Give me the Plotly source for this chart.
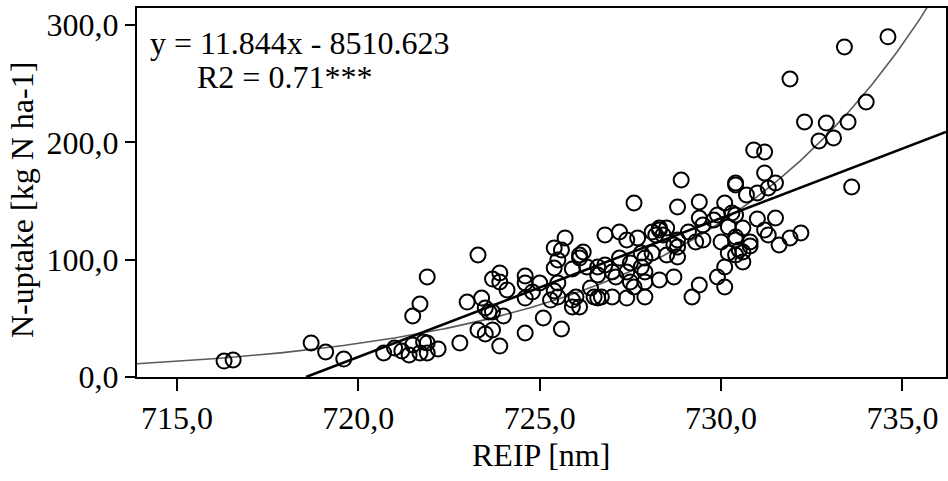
import numpy as np
import plotly.graph_objects as go

# REIP [nm] values of the sample points
reip = [
    716.3, 716.55, 718.7, 719.1, 719.6, 720.7, 721.0, 721.2, 721.4, 721.5,
    721.7, 721.8, 721.9, 721.9, 722.2, 721.5, 721.7, 721.9, 722.8, 723.0,
    723.3, 723.4, 723.3, 723.5, 723.5, 723.6, 723.7, 723.7, 723.7, 723.9,
    723.9, 724.0, 723.9, 724.1, 724.6, 724.6, 724.6, 724.6, 724.8, 725.0,
    725.1, 725.4, 725.6, 725.7, 725.5, 725.4, 725.5, 725.4, 725.3, 725.6,
    725.9, 726.1, 726.2, 726.1, 726.3, 725.5, 725.9, 726.0, 726.1, 725.9,
    726.4, 726.5, 726.6, 726.7, 727.0, 726.8, 726.8, 726.6, 726.6, 727.2,
    727.4, 727.7, 728.1, 728.3, 728.3, 728.5, 728.4, 728.2, 728.8, 729.1,
    729.4, 729.5, 729.5, 729.3, 729.8, 729.9, 730.3, 730.4, 730.2, 730.0,
    730.2, 730.4, 730.5, 730.4, 727.2, 727.5, 727.8, 727.9, 728.1, 728.5,
    728.8, 728.8, 728.7, 727.8, 727.9, 727.4, 727.0, 727.1, 727.5, 727.6,
    727.9, 728.3, 728.7, 727.4, 727.9, 729.4, 729.2, 729.9, 730.1, 730.1,
    727.6, 728.8, 729.4, 730.1, 728.9, 730.4, 730.7, 731.0, 731.5, 731.0,
    731.2, 731.3, 731.6, 731.9, 732.2, 730.6, 730.8, 730.6, 730.6, 730.4,
    732.3, 732.9, 733.5, 732.7, 733.1, 730.9, 731.2, 731.2, 730.4, 731.5,
    731.3, 733.6, 731.9, 733.4, 734.6, 734.0, 730.8,
]

# N-uptake [kg N ha-1] values of the sample points
n_uptake = [
    13.6, 14.5, 29.0, 21.3, 15.3, 20.5, 24.7, 22.2, 18.8, 27.3,
    20.5, 29.8, 29.0, 20.5, 23.9, 52.0, 62.2, 85.3, 29.0, 63.9,
    104.0, 67.3, 40.1, 36.7, 58.8, 55.4, 55.4, 40.1, 83.5, 88.7,
    81.0, 52.0, 26.4, 74.2, 67.3, 37.5, 86.1, 80.1, 72.5, 80.1,
    50.3, 110.0, 108.3, 118.5, 99.7, 92.9, 80.1, 73.3, 65.6, 40.9,
    92.1, 104.0, 106.6, 101.4, 93.8, 68.2, 65.6, 68.2, 59.7, 59.7,
    75.9, 68.2, 67.3, 68.2, 68.2, 121.1, 95.5, 87.0, 93.8, 123.6,
    116.8, 118.5, 123.6, 127.0, 125.3, 127.0, 121.1, 121.1, 116.8, 123.6,
    135.5, 129.6, 116.8, 115.1, 133.8, 138.1, 139.8, 138.1, 127.9, 115.1,
    105.7, 116.8, 108.3, 104.0, 101.4, 97.2, 105.7, 101.4, 105.7, 104.0,
    102.3, 110.8, 112.5, 93.8, 89.5, 89.5, 89.5, 85.3, 81.0, 76.7,
    81.0, 82.7, 85.3, 67.3, 68.2, 78.4, 68.2, 85.3, 76.7, 93.8,
    148.3, 144.9, 149.2, 148.3, 167.9, 163.7, 155.2, 156.9, 135.5, 134.7,
    125.3, 121.1, 112.5, 118.5, 122.8, 127.0, 115.1, 98.0, 106.6, 119.4,
    217.4, 216.5, 217.4, 201.2, 203.8, 193.5, 191.8, 173.9, 165.4, 165.4,
    161.1, 162.0, 254.0, 281.3, 289.9, 234.4, 111.7,
]

# Fit parameters
lin_slope = 11.844
lin_intercept = -8510.623
exp_ref_x = 725.0
exp_ref_y = 61.4
exp_rate = 0.153

x_range = [713.9, 736.2]
y_range = [0, 314.5]
x_ticks = [715, 720, 725, 730, 735]
y_ticks = [0, 100, 200, 300]

FONT = "Liberation Serif, Times New Roman, serif"
FS = 32

fig = go.Figure()

# exponential fit curve (grey, thin)
xc = np.linspace(x_range[0], x_range[1], 400)
yc = exp_ref_y * np.exp(exp_rate * (xc - exp_ref_x))
fig.add_trace(go.Scatter(x=xc, y=yc, mode="lines",
                         line=dict(color="#5a5a5a", width=1.6),
                         hoverinfo="skip", showlegend=False))

# linear fit line (black, thick)
x0 = -lin_intercept / lin_slope
xl = np.array([x0, x_range[1]])
yl = lin_slope * xl + lin_intercept
fig.add_trace(go.Scatter(x=xl, y=yl, mode="lines",
                         line=dict(color="black", width=2.6),
                         hoverinfo="skip", showlegend=False))

# data points
fig.add_trace(go.Scatter(x=reip, y=n_uptake, mode="markers",
                         marker=dict(symbol="circle-open", size=15,
                                     color="black", line=dict(width=2, color="black")),
                         showlegend=False))

fig.add_annotation(xref="paper", yref="paper", x=0.014, y=0.905,
                   xanchor="left", yanchor="middle", showarrow=False,
                   text="y = 11.844x - 8510.623",
                   font=dict(family=FONT, size=FS, color="black"))
fig.add_annotation(xref="paper", yref="paper", x=0.072, y=0.812,
                   xanchor="left", yanchor="middle", showarrow=False,
                   text="R2 = 0.71***",
                   font=dict(family=FONT, size=FS, color="black"))

# axis titles
fig.add_annotation(xref="paper", yref="paper", x=0.4994, y=-0.211,
                   xanchor="center", yanchor="middle", showarrow=False,
                   text="REIP [nm]", font=dict(family=FONT, size=FS, color="black"))
fig.add_annotation(xref="paper", yref="paper", x=-0.142, y=0.48,
                   xanchor="center", yanchor="middle", showarrow=False, textangle=-90,
                   text="N-uptake [kg N ha-1]", font=dict(family=FONT, size=FS, color="black"))

fig.update_layout(
    width=948, height=481,
    margin=dict(l=137, r=2, t=8, b=104),
    paper_bgcolor="white", plot_bgcolor="white",
    separators=", ",
    font=dict(family=FONT, size=FS, color="black"),
    xaxis=dict(range=x_range, tickvals=x_ticks, tickformat=".1f",
               showgrid=False, zeroline=False, automargin=False,
               showline=True, linecolor="black", linewidth=2, mirror=True,
               ticks="outside", ticklen=12, tickwidth=1.5, tickcolor="black",
               tickfont=dict(family=FONT, size=FS)),
    yaxis=dict(range=y_range, tickvals=y_ticks, tickformat=".1f",
               showgrid=False, zeroline=False, automargin=False,
               showline=True, linecolor="black", linewidth=2, mirror=True,
               ticks="outside", ticklen=10, tickwidth=1.5, tickcolor="black",
               tickfont=dict(family=FONT, size=FS)),
)

fig.write_html("out.html", config={"displayModeBar": False},
               post_script="document.body.style.margin='0';document.body.style.overflow='hidden';")
